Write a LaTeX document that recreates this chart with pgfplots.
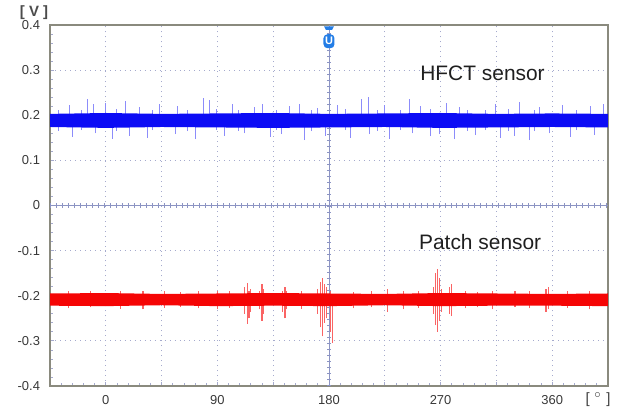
\documentclass[border=0pt]{standalone}
\usepackage{pgfplots}
\pgfplotsset{compat=1.18}
\usepackage{pgfplotstable}
\usepackage{fontspec}
\setmainfont{Liberation Sans}

\definecolor{framec}{RGB}{138,138,126}
\definecolor{gridc}{RGB}{165,170,205}
\definecolor{crossc}{RGB}{140,148,195}
\definecolor{sigblue}{RGB}{12,12,245}
\definecolor{spikeblue}{RGB}{140,140,250}
\definecolor{sigred}{RGB}{245,5,5}
\definecolor{spikered}{RGB}{250,100,100}
\definecolor{trigc}{RGB}{35,125,230}

% HFCT band outline (upper edge, then lower edge back)
\pgfplotstableread{
x     y
-45   0.203
0     0.205
45    0.203
90    0.204
135   0.205
180   0.203
225   0.204
270   0.205
315   0.203
360   0.204
405   0.203
405   0.173
360   0.174
315   0.173
270   0.172
225   0.174
180   0.173
135   0.172
90    0.173
45    0.174
0     0.172
-45   0.174
}\hfctband

% Patch band outline
\pgfplotstableread{
x     y
-45   -0.195
0     -0.194
45    -0.196
90    -0.195
135   -0.194
180   -0.195
225   -0.196
270   -0.194
315   -0.195
360   -0.196
405   -0.195
405   -0.223
360   -0.222
315   -0.222
270   -0.223
225   -0.221
180   -0.223
135   -0.222
90    -0.223
45    -0.221
0     -0.223
-45   -0.222
}\patchband

\begin{document}
\begin{tikzpicture}
\path[use as bounding box] (-25bp,-14bp) rectangle (292.5bp,193bp);
\begin{axis}[
  at={(0,0)}, anchor=south west,
  width=279bp, height=180.5bp, scale only axis,
  xmin=-45, xmax=405, ymin=-0.4, ymax=0.4,
  xtick={-45,0,45,90,135,180,225,270,315,360,405},
  xticklabels={,0,,90,,180,,270,,360,},
  ytick={-0.4,-0.3,-0.2,-0.1,0,0.1,0.2,0.3,0.4},
  yticklabels={-0.4,-0.3,-0.2,-0.1,0,0.1,0.2,0.3,0.4},
  minor x tick num=4, minor y tick num=4,
  xtick pos=bottom, ytick pos=left,
  tick align=inside,
  major tick length=2.2bp, minor tick length=1.4bp,
  tick style={gridc, line width=0.4pt},
  grid=major,
  major grid style={gridc, line width=0.45pt, dash pattern=on 0.5pt off 2pt},
  axis line style={framec, line width=1.2pt},
  tick label style={font=\fontsize{6.5}{7}\selectfont, text=black!78},
  xticklabel style={yshift=-1.2bp},
  yticklabel style={xshift=-1.5bp},
  unbounded coords=jump,
]
% crosshair at 180 deg and 0 V, with small cross ticks
\draw[crossc, line width=0.5pt] (axis cs:180,-0.4) -- (axis cs:180,0.4);
\draw[crossc, line width=2.2bp, dash pattern=on 0.4pt off 2.6pt] (axis cs:180,-0.4) -- (axis cs:180,0.4);
\draw[crossc, line width=0.5pt] (axis cs:-45,0) -- (axis cs:405,0);
\draw[crossc, line width=2.2bp, dash pattern=on 0.4pt off 2.6pt] (axis cs:-45,0) -- (axis cs:405,0);

% HFCT spikes (each: lower end, upper end, break)
\addplot[forget plot, spikeblue, line width=0.5pt, mark=none] coordinates {
(-29,0.19)(-29,0.222)(-29,nan) (-14.5,0.19)(-14.5,0.236)(-14.5,nan) (-10,0.19)(-10,0.224)(-10,nan)
(0,0.19)(0,0.228)(0,nan) (15.5,0.19)(15.5,0.232)(15.5,nan) (27.5,0.19)(27.5,0.218)(27.5,nan)
(43.5,0.19)(43.5,0.226)(43.5,nan) (58,0.19)(58,0.221)(58,nan) (78.5,0.19)(78.5,0.238)(78.5,nan)
(84,0.19)(84,0.233)(84,nan) (102,0.19)(102,0.226)(102,nan) (120,0.19)(120,0.219)(120,nan)
(126,0.19)(126,0.224)(126,nan) (148.5,0.19)(148.5,0.220)(148.5,nan) (156.5,0.19)(156.5,0.225)(156.5,nan)
(171,0.19)(171,0.217)(171,nan) (187,0.19)(187,0.223)(187,nan) (206.5,0.19)(206.5,0.236)(206.5,nan)
(211.5,0.19)(211.5,0.240)(211.5,nan) (225,0.19)(225,0.222)(225,nan) (245,0.19)(245,0.235)(245,nan)
(253.5,0.19)(253.5,0.221)(253.5,nan) (275,0.19)(275,0.227)(275,nan) (285.5,0.19)(285.5,0.219)(285.5,nan)
(314,0.19)(314,0.224)(314,nan) (334,0.19)(334,0.229)(334,nan) (350,0.19)(350,0.218)(350,nan)
(368.5,0.19)(368.5,0.223)(368.5,nan) (390.5,0.19)(390.5,0.220)(390.5,nan) (401,0.19)(401,0.226)(401,nan)
(-27,0.152)(-27,0.19)(-27,nan) (-8.5,0.160)(-8.5,0.19)(-8.5,nan) (5,0.148)(5,0.19)(5,nan)
(19.5,0.155)(19.5,0.19)(19.5,nan) (34,0.150)(34,0.19)(34,nan) (56,0.158)(56,0.19)(56,nan)
(72,0.147)(72,0.19)(72,nan) (96,0.155)(96,0.19)(96,nan) (112,0.160)(112,0.19)(112,nan)
(132.5,0.152)(132.5,0.19)(132.5,nan) (142,0.158)(142,0.19)(142,nan) (160.5,0.145)(160.5,0.19)(160.5,nan)
(177,0.155)(177,0.19)(177,nan) (197,0.150)(197,0.19)(197,nan) (213,0.158)(213,0.19)(213,nan)
(229,0.148)(229,0.19)(229,nan) (247,0.160)(247,0.19)(247,nan) (261.5,0.153)(261.5,0.19)(261.5,nan)
(269.5,0.158)(269.5,0.19)(269.5,nan) (281.5,0.147)(281.5,0.19)(281.5,nan) (298,0.156)(298,0.19)(298,nan)
(318,0.150)(318,0.19)(318,nan) (330,0.155)(330,0.19)(330,nan) (342,0.145)(342,0.19)(342,nan)
(358,0.160)(358,0.19)(358,nan) (374.5,0.152)(374.5,0.19)(374.5,nan) (394.5,0.157)(394.5,0.19)(394.5,nan)
(-38,0.166)(-38,0.212)(-38,nan) (-20,0.167)(-20,0.211)(-20,nan) (9,0.166)(9,0.213)(9,nan)
(38,0.167)(38,0.212)(38,nan) (66,0.165)(66,0.211)(66,nan) (89,0.167)(89,0.213)(89,nan)
(107,0.166)(107,0.212)(107,nan) (138,0.167)(138,0.211)(138,nan) (166,0.165)(166,0.212)(166,nan)
(193,0.167)(193,0.213)(193,nan) (219,0.166)(219,0.211)(219,nan) (238,0.167)(238,0.212)(238,nan)
(262,0.165)(262,0.213)(262,nan) (292,0.166)(292,0.211)(292,nan) (306,0.167)(306,0.212)(306,nan)
(325,0.166)(325,0.213)(325,nan) (346,0.165)(346,0.211)(346,nan) (380,0.167)(380,0.212)(380,nan)
};

% Patch spikes
\addplot[forget plot, spikered, line width=0.55pt, mark=none] coordinates {
(112,-0.240)(112,-0.180)(112,nan) (114,-0.262)(114,-0.172)(114,nan) (115.5,-0.250)(115.5,-0.190)(115.5,nan)
(117,-0.235)(117,-0.185)(117,nan) (124,-0.230)(124,-0.190)(124,nan) (126,-0.255)(126,-0.175)(126,nan)
(127.5,-0.240)(127.5,-0.185)(127.5,nan) (142.5,-0.235)(142.5,-0.190)(142.5,nan) (144.5,-0.250)(144.5,-0.180)(144.5,nan)
(146,-0.230)(146,-0.190)(146,nan) (171,-0.240)(171,-0.185)(171,nan) (173,-0.270)(173,-0.170)(173,nan)
(175,-0.290)(175,-0.160)(175,nan) (176.5,-0.260)(176.5,-0.175)(176.5,nan) (178,-0.250)(178,-0.180)(178,nan)
(181,-0.280)(181,-0.190)(181,nan) (183,-0.305)(183,-0.200)(183,nan) (227,-0.235)(227,-0.185)(227,nan)
(264,-0.240)(264,-0.180)(264,nan) (266,-0.265)(266,-0.150)(266,nan) (267.5,-0.280)(267.5,-0.140)(267.5,nan)
(269,-0.255)(269,-0.160)(269,nan) (271,-0.235)(271,-0.185)(271,nan) (277,-0.240)(277,-0.180)(277,nan)
(278.5,-0.245)(278.5,-0.175)(278.5,nan) (312,-0.230)(312,-0.190)(312,nan) (355,-0.235)(355,-0.185)(355,nan)
(357,-0.230)(357,-0.180)(357,nan) (-30,-0.228)(-30,-0.190)(-30,nan) (-12,-0.226)(-12,-0.189)(-12,nan)
(12,-0.229)(12,-0.190)(12,nan) (30,-0.230)(30,-0.190)(30,nan) (47,-0.227)(47,-0.189)(47,nan)
(60,-0.225)(60,-0.191)(60,nan) (75,-0.228)(75,-0.189)(75,nan) (90,-0.230)(90,-0.190)(90,nan)
(100,-0.227)(100,-0.190)(100,nan) (158,-0.229)(158,-0.189)(158,nan) (200,-0.228)(200,-0.192)(200,nan)
(214,-0.226)(214,-0.190)(214,nan) (240,-0.230)(240,-0.190)(240,nan) (252,-0.227)(252,-0.189)(252,nan)
(290,-0.228)(290,-0.190)(290,nan) (300,-0.226)(300,-0.191)(300,nan) (330,-0.225)(330,-0.190)(330,nan)
(342,-0.228)(342,-0.189)(342,nan) (372,-0.227)(372,-0.190)(372,nan) (390,-0.230)(390,-0.190)(390,nan)
};

% dense bands
\addplot[forget plot, fill=sigblue, draw=none, mark=none] table[x=x, y=y] {\hfctband};
\addplot[forget plot, fill=sigred, draw=none, mark=none] table[x=x, y=y] {\patchband};

\node[anchor=west, font=\fontsize{10.5}{12}\selectfont, text=black!88] at (axis cs:248,0.293) {HFCT sensor};
\node[anchor=west, font=\fontsize{10.5}{12}\selectfont, text=black!88] at (axis cs:247,-0.080) {Patch sensor};

% trigger marker
\fill[trigc] (axis cs:176,0.397) -- (axis cs:184,0.397) -- (axis cs:182.5,0.389) -- (axis cs:177.5,0.389) -- cycle;
\node[fill=trigc, rounded corners=2bp, inner sep=0pt, minimum width=5.5bp, minimum height=7bp,
  text=white, font=\fontsize{5.5}{5.5}\selectfont\bfseries] at (axis cs:180,0.364) {U};
\end{axis}
\node[font=\fontsize{7.5}{8}\selectfont\bfseries, text=black!70] at (-8bp,186.5bp) {[ V ]};
\node[font=\fontsize{7.5}{8}\selectfont, text=black!75] at (274bp,-7bp) {[ $^{\circ}$ ]};
\end{tikzpicture}
\end{document}
